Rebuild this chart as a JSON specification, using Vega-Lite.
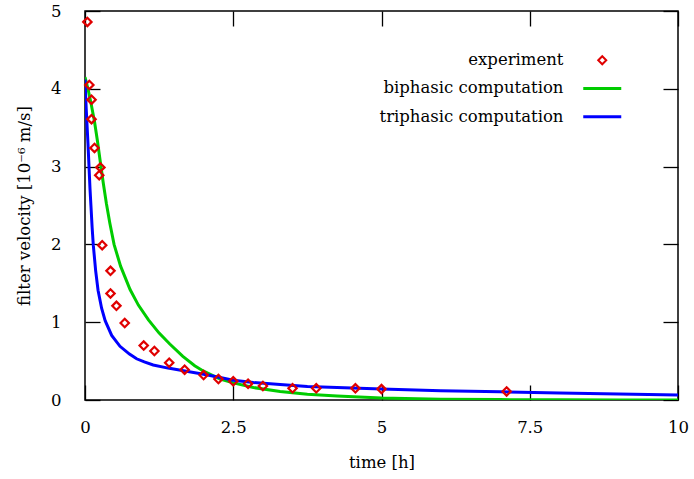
{
  "$schema": "https://vega.github.io/schema/vega-lite/v6.json",
  "width": 593,
  "height": 389,
  "autosize": "none",
  "padding": {"left": 85, "top": 11, "right": 16, "bottom": 79},
  "background": "white",
  "config": {
    "view": {"stroke": "black", "strokeWidth": 1.5},
    "font": "DejaVu Serif",
    "axis": {
      "grid": false, "domain": false, "tickColor": "black", "tickWidth": 1.3, "tickSize": -15,
      "labelFont": "DejaVu Serif", "labelFontSize": 16.5, "labelColor": "black",
      "titleFont": "DejaVu Serif", "titleFontSize": 16.5, "titleFontWeight": "normal", "titleColor": "black"
    },
    "legend": {"title": null, "orient": "none", "legendX": 509, "legendY": 41, "padding": 0, "labelAlign": "right", "labelOffset": -47, "rowPadding": 11.2, "labelFont": "DejaVu Serif", "labelFontSize": 16.5, "labelColor": "black", "symbolStrokeWidth": 3, "labelLimit": 400}
  },
  "datasets": {
    "exp": [
      {"t": 0.04, "v": 4.86, "series": "experiment"},
      {"t": 0.073, "v": 4.05, "series": "experiment"},
      {"t": 0.11, "v": 3.86, "series": "experiment"},
      {"t": 0.11, "v": 3.61, "series": "experiment"},
      {"t": 0.16, "v": 3.24, "series": "experiment"},
      {"t": 0.26, "v": 2.99, "series": "experiment"},
      {"t": 0.24, "v": 2.89, "series": "experiment"},
      {"t": 0.29, "v": 1.99, "series": "experiment"},
      {"t": 0.43, "v": 1.66, "series": "experiment"},
      {"t": 0.43, "v": 1.37, "series": "experiment"},
      {"t": 0.53, "v": 1.21, "series": "experiment"},
      {"t": 0.67, "v": 0.99, "series": "experiment"},
      {"t": 0.99, "v": 0.70, "series": "experiment"},
      {"t": 1.17, "v": 0.63, "series": "experiment"},
      {"t": 1.42, "v": 0.48, "series": "experiment"},
      {"t": 1.68, "v": 0.39, "series": "experiment"},
      {"t": 2.0, "v": 0.32, "series": "experiment"},
      {"t": 2.25, "v": 0.27, "series": "experiment"},
      {"t": 2.5, "v": 0.24, "series": "experiment"},
      {"t": 2.75, "v": 0.21, "series": "experiment"},
      {"t": 3.0, "v": 0.18, "series": "experiment"},
      {"t": 3.5, "v": 0.15, "series": "experiment"},
      {"t": 3.9, "v": 0.15, "series": "experiment"},
      {"t": 4.56, "v": 0.15, "series": "experiment"},
      {"t": 5.0, "v": 0.14, "series": "experiment"},
      {"t": 7.11, "v": 0.11, "series": "experiment"}
    ],
    "curves": [
      {"t": 0, "v": 4.15, "series": "biphasic computation"},
      {"t": 0.05, "v": 4.0, "series": "biphasic computation"},
      {"t": 0.1, "v": 3.82, "series": "biphasic computation"},
      {"t": 0.16, "v": 3.58, "series": "biphasic computation"},
      {"t": 0.21, "v": 3.33, "series": "biphasic computation"},
      {"t": 0.26, "v": 3.05, "series": "biphasic computation"},
      {"t": 0.31, "v": 2.78, "series": "biphasic computation"},
      {"t": 0.36, "v": 2.53, "series": "biphasic computation"},
      {"t": 0.42, "v": 2.27, "series": "biphasic computation"},
      {"t": 0.49, "v": 2.0, "series": "biphasic computation"},
      {"t": 0.6, "v": 1.72, "series": "biphasic computation"},
      {"t": 0.76, "v": 1.42, "series": "biphasic computation"},
      {"t": 0.9, "v": 1.22, "series": "biphasic computation"},
      {"t": 1.07, "v": 1.03, "series": "biphasic computation"},
      {"t": 1.25, "v": 0.86, "series": "biphasic computation"},
      {"t": 1.43, "v": 0.72, "series": "biphasic computation"},
      {"t": 1.65, "v": 0.56, "series": "biphasic computation"},
      {"t": 1.85, "v": 0.44, "series": "biphasic computation"},
      {"t": 2.0, "v": 0.37, "series": "biphasic computation"},
      {"t": 2.28, "v": 0.27, "series": "biphasic computation"},
      {"t": 2.5, "v": 0.22, "series": "biphasic computation"},
      {"t": 2.84, "v": 0.16, "series": "biphasic computation"},
      {"t": 3.29, "v": 0.11, "series": "biphasic computation"},
      {"t": 3.75, "v": 0.075, "series": "biphasic computation"},
      {"t": 4.25, "v": 0.05, "series": "biphasic computation"},
      {"t": 5, "v": 0.025, "series": "biphasic computation"},
      {"t": 6, "v": 0.011, "series": "biphasic computation"},
      {"t": 7, "v": 0.005, "series": "biphasic computation"},
      {"t": 8, "v": 0.002, "series": "biphasic computation"},
      {"t": 9, "v": 0.001, "series": "biphasic computation"},
      {"t": 10, "v": 0.0005, "series": "biphasic computation"},
      {"t": 0, "v": 4.12, "series": "triphasic computation"},
      {"t": 0.02, "v": 3.75, "series": "triphasic computation"},
      {"t": 0.05, "v": 3.3, "series": "triphasic computation"},
      {"t": 0.084, "v": 2.72, "series": "triphasic computation"},
      {"t": 0.1, "v": 2.5, "series": "triphasic computation"},
      {"t": 0.12, "v": 2.22, "series": "triphasic computation"},
      {"t": 0.14, "v": 1.99, "series": "triphasic computation"},
      {"t": 0.18, "v": 1.66, "series": "triphasic computation"},
      {"t": 0.22, "v": 1.41, "series": "triphasic computation"},
      {"t": 0.28, "v": 1.18, "series": "triphasic computation"},
      {"t": 0.34, "v": 1.02, "series": "triphasic computation"},
      {"t": 0.45, "v": 0.83, "series": "triphasic computation"},
      {"t": 0.59, "v": 0.69, "series": "triphasic computation"},
      {"t": 0.75, "v": 0.59, "series": "triphasic computation"},
      {"t": 0.87, "v": 0.53, "series": "triphasic computation"},
      {"t": 1.0, "v": 0.49, "series": "triphasic computation"},
      {"t": 1.15, "v": 0.45, "series": "triphasic computation"},
      {"t": 1.4, "v": 0.41, "series": "triphasic computation"},
      {"t": 1.71, "v": 0.37, "series": "triphasic computation"},
      {"t": 2.0, "v": 0.33, "series": "triphasic computation"},
      {"t": 2.28, "v": 0.29, "series": "triphasic computation"},
      {"t": 2.5, "v": 0.255, "series": "triphasic computation"},
      {"t": 2.84, "v": 0.225, "series": "triphasic computation"},
      {"t": 3.29, "v": 0.2, "series": "triphasic computation"},
      {"t": 3.75, "v": 0.175, "series": "triphasic computation"},
      {"t": 4.25, "v": 0.16, "series": "triphasic computation"},
      {"t": 5, "v": 0.14, "series": "triphasic computation"},
      {"t": 6, "v": 0.12, "series": "triphasic computation"},
      {"t": 7, "v": 0.105, "series": "triphasic computation"},
      {"t": 8, "v": 0.09, "series": "triphasic computation"},
      {"t": 9, "v": 0.077, "series": "triphasic computation"},
      {"t": 10, "v": 0.065, "series": "triphasic computation"}
    ]
  },
  "layer": [
    {
      "data": {"name": "curves"},
      "mark": {"type": "line", "strokeWidth": 3, "clip": true},
      "encoding": {
        "x": {"field": "t", "type": "quantitative", "scale": {"domain": [0, 10]},
              "axis": {"orient": "bottom", "values": [0, 2.5, 5, 7.5, 10], "format": ".2~f", "title": "time [h]", "labelPadding": 34, "titlePadding": 19, "labelFlush": false}},
        "y": {"field": "v", "type": "quantitative", "scale": {"domain": [0, 5]},
              "axis": {"orient": "left", "values": [0, 1, 2, 3, 4, 5], "format": ".2~f", "title": "filter velocity [10⁻⁶ m/s]", "labelPadding": 39, "titlePadding": 18, "labelFlush": false}},
        "color": {"field": "series", "type": "nominal",
                  "scale": {"domain": ["experiment", "biphasic computation", "triphasic computation"], "range": ["#e00000", "#00cc00", "#0000ff"]},
                  "legend": {"encode": {"symbols": {"update": {"size": {"signal": "datum.value === 'experiment' ? 64 : 1444"}, "strokeWidth": {"signal": "datum.value === 'experiment' ? 2 : 3"}}}}}}
      }
    },
    {
      "data": {"name": "exp"},
      "mark": {"type": "point", "filled": false, "strokeWidth": 2.2, "opacity": 1, "size": 70},
      "encoding": {
        "x": {"field": "t", "type": "quantitative", "axis": {"orient": "top", "values": [0, 2.5, 5, 7.5, 10], "labels": false, "title": null}},
        "y": {"field": "v", "type": "quantitative", "axis": {"orient": "right", "values": [0, 1, 2, 3, 4, 5], "labels": false, "title": null}},
        "color": {"field": "series", "type": "nominal",
                  "scale": {"domain": ["experiment", "biphasic computation", "triphasic computation"], "range": ["#e00000", "#00cc00", "#0000ff"]},
                  "legend": {"encode": {"symbols": {"update": {"size": {"signal": "datum.value === 'experiment' ? 64 : 1444"}, "strokeWidth": {"signal": "datum.value === 'experiment' ? 2 : 3"}}}}}},
        "shape": {"field": "series", "type": "nominal",
                  "scale": {"domain": ["experiment", "biphasic computation", "triphasic computation"], "range": ["diamond", "stroke", "stroke"]}}
      }
    }
  ]
}
